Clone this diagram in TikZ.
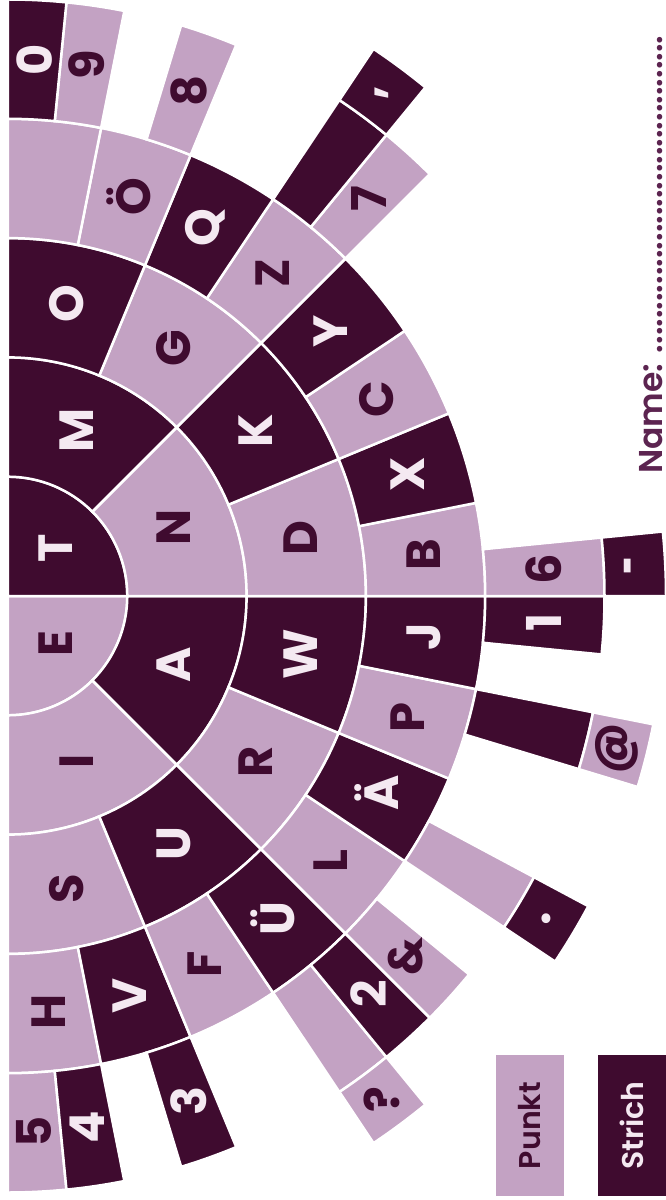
\documentclass[tikz,border=0pt]{standalone}
\usepackage{graphicx}
\usepackage{fontspec}
\setmainfont{Poppins}
\newfontfamily\semifont{Poppins}[UprightFont={* SemiBold}]
\definecolor{punkt}{HTML}{C3A2C3}
\definecolor{strich}{HTML}{3F0B2F}
\definecolor{hell}{HTML}{F4E9F1}
\definecolor{namelila}{HTML}{5C2450}
\newcommand{\morsefont}{\fontsize{48}{48}\selectfont\bfseries}
\newcommand{\kurzstrich}{\scalebox{0.65}[1]{-}}

\begin{document}
\begin{tikzpicture}[x=1pt, y=1pt,
  dotseg/.style={fill=punkt, draw=white, line width=2.5pt},
  dashseg/.style={fill=strich, draw=white, line width=2.5pt},
  dotlbl/.style={font=\morsefont, text=strich, rotate=90, inner sep=0pt},
  dashlbl/.style={font=\morsefont, text=hell, rotate=90, inner sep=0pt},
  legbox/.style={font=\semifont\fontsize{30}{30}\selectfont, rotate=90, minimum width=141pt, minimum height=68pt, inner sep=0pt},
  namelbl/.style={font=\semifont\fontsize{33}{33}\selectfont, text=namelila, rotate=90, inner sep=0pt}
]
\useasboundingbox (-8,-604) rectangle (658,596);

% level / index / text / kind  (level 6 keeps the span of its level-5 parent)
\foreach \lev/\idx/\txt/\kind in {
  1/0/E/dot, 1/1/T/dash,
  2/0/I/dot, 2/1/A/dash, 2/2/N/dot, 2/3/M/dash,
  3/0/S/dot, 3/1/U/dash, 3/2/R/dot, 3/3/W/dash, 3/4/D/dot, 3/5/K/dash, 3/6/G/dot, 3/7/O/dash,
  4/0/H/dot, 4/1/V/dash, 4/2/F/dot, 4/3/Ü/dash, 4/4/L/dot, 4/5/Ä/dash, 4/6/P/dot, 4/7/J/dash,
  4/8/B/dot, 4/9/X/dash, 4/10/C/dot, 4/11/Y/dash, 4/12/Z/dot, 4/13/Q/dash, 4/14/Ö/dot, 4/15/{}/dot,
  5/0/5/dot, 5/1/4/dash, 5/3/3/dash, 5/6/{}/dot, 5/7/2/dash, 5/8/\&/dot, 5/10/{}/dot, 5/13/{}/dash,
  5/15/1/dash, 5/16/6/dot, 5/24/7/dot, 5/25/{}/dash, 5/28/8/dot, 5/30/9/dot, 5/31/0/dash,
  6/6/?/dot, 6/10/./dash, 6/13/@/dot, 6/16/\kurzstrich/dash, 6/25/{,}/dash} {
  \pgfmathsetmacro{\segw}{180/2^min(\lev,5)}
  \pgfmathsetmacro{\angA}{-90+\idx*\segw}
  \pgfmathsetmacro{\angB}{\angA+\segw}
  \pgfmathsetmacro{\rin}{max(0.1,119.3*(\lev-1))}
  \pgfmathsetmacro{\rout}{\lev<6 ? 119.3*\lev : 658}
  \pgfmathsetmacro{\rlab}{\lev==1 ? 67 : (\rin+\rout)/2}
  \path[\kind seg] (\angA:\rin) arc[start angle=\angA, end angle=\angB, radius=\rin]
    -- (\angB:\rout) arc[start angle=\angB, end angle=\angA, radius=\rout] -- cycle;
  \node[\kind lbl] (m-\lev-\idx) at ({(\angA+\angB)/2}:\rlab) {\txt};
}

% name line
\node[namelbl, anchor=base west] (name) at (654,122) {Name: .....................................};

% legend
\node[legbox, fill=punkt, text=strich] (punkt) at (522,-529.5) {Punkt};
\node[legbox, fill=strich, text=hell] (strich) at (624,-529.5) {Strich};
\end{tikzpicture}
\end{document}
